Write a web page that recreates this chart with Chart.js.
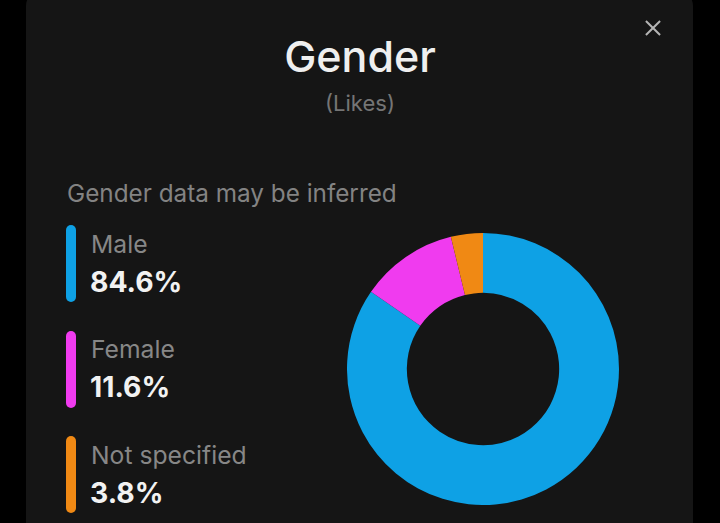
<!DOCTYPE html>
<html>
<head>
<meta charset="utf-8">
<script src="https://cdn.jsdelivr.net/npm/chart.js@4.4.1/dist/chart.umd.min.js"></script>
<style>
    html, body {
        margin: 0;
        padding: 0;
        width: 720px;
        height: 523px;
        background: #000;
        overflow: hidden;
        font-family: Inter, "Noto Sans", sans-serif;
    }
    .card {
        position: absolute;
        left: 26px;
        top: -10px;
        width: 667px;
        height: 560px;
        background: #151515;
        border-radius: 16px;
    }
    .abs {
        position: absolute;
        line-height: 1;
        white-space: nowrap;
    }
    #title {
        left: 0;
        width: 720px;
        text-align: center;
        top: 35px;
        font-size: 43px;
        font-weight: 500;
        color: #efefef;
    }
    #subtitle {
        left: 0;
        width: 720px;
        text-align: center;
        top: 92px;
        font-size: 22px;
        color: #757575;
    }
    #note {
        left: 67px;
        top: 181px;
        font-size: 24.3px;
        color: #838383;
    }
    .bar {
        position: absolute;
        left: 66px;
        width: 10px;
        height: 77px;
        border-radius: 5px;
    }
    .label {
        left: 91px;
        font-size: 24.7px;
        color: #878787;
    }
    .value {
        left: 90px;
        font-size: 28.3px;
        font-weight: 700;
        color: #f2f2f2;
    }
    #close {
        position: absolute;
        left: 645px;
        top: 20px;
        width: 16px;
        height: 16px;
    }
    #close::before, #close::after {
        content: "";
        position: absolute;
        left: -2px;
        top: 7px;
        width: 20px;
        height: 2px;
        background: #b5b5b5;
    }
    #close::before { transform: rotate(45deg); }
    #close::after { transform: rotate(-45deg); }
    #chartBox {
        position: absolute;
        left: 347px;
        top: 233px;
        width: 272px;
        height: 272px;
    }
</style>
</head>
<body>
<div class="card"></div>
<div id="close"></div>
<div class="abs" id="title">Gender</div>
<div class="abs" id="subtitle">(Likes)</div>
<div class="abs" id="note">Gender data may be inferred</div>
<div id="legend"></div>
<div id="chartBox"><canvas id="genderChart" width="272" height="272"></canvas></div>

<script>
// Chart data
const categories = ['Male', 'Female', 'Not specified'];
const shares = [84.6, 11.6, 3.8];
const colors = ['#0ea1e5', '#f03bef', '#f08914'];

// Legend on the left
const legend = document.getElementById('legend');
categories.forEach((name, i) => {
    const step = i * 105.5;
    const bar = document.createElement('div');
    bar.className = 'bar';
    bar.style.top = (225 + step) + 'px';
    bar.style.background = colors[i];
    legend.appendChild(bar);

    const label = document.createElement('div');
    label.className = 'abs label';
    label.style.top = (231.5 + step) + 'px';
    label.textContent = name;
    legend.appendChild(label);

    const value = document.createElement('div');
    value.className = 'abs value';
    value.style.top = (267.5 + step) + 'px';
    value.textContent = shares[i].toFixed(1) + '%';
    legend.appendChild(value);
});

// Doughnut
const ctx = document.getElementById('genderChart').getContext('2d');
const genderChart = new Chart(ctx, {
    type: 'doughnut',
    data: {
        labels: categories,
        datasets: [{
            data: shares,
            backgroundColor: colors,
            borderWidth: 0,
            hoverOffset: 0
        }]
    },
    options: {
        responsive: false,
        animation: false,
        cutout: '56%',
        layout: { padding: 0 },
        plugins: {
            legend: { display: false },
            tooltip: { enabled: false }
        }
    }
});
</script>
</body>
</html>
